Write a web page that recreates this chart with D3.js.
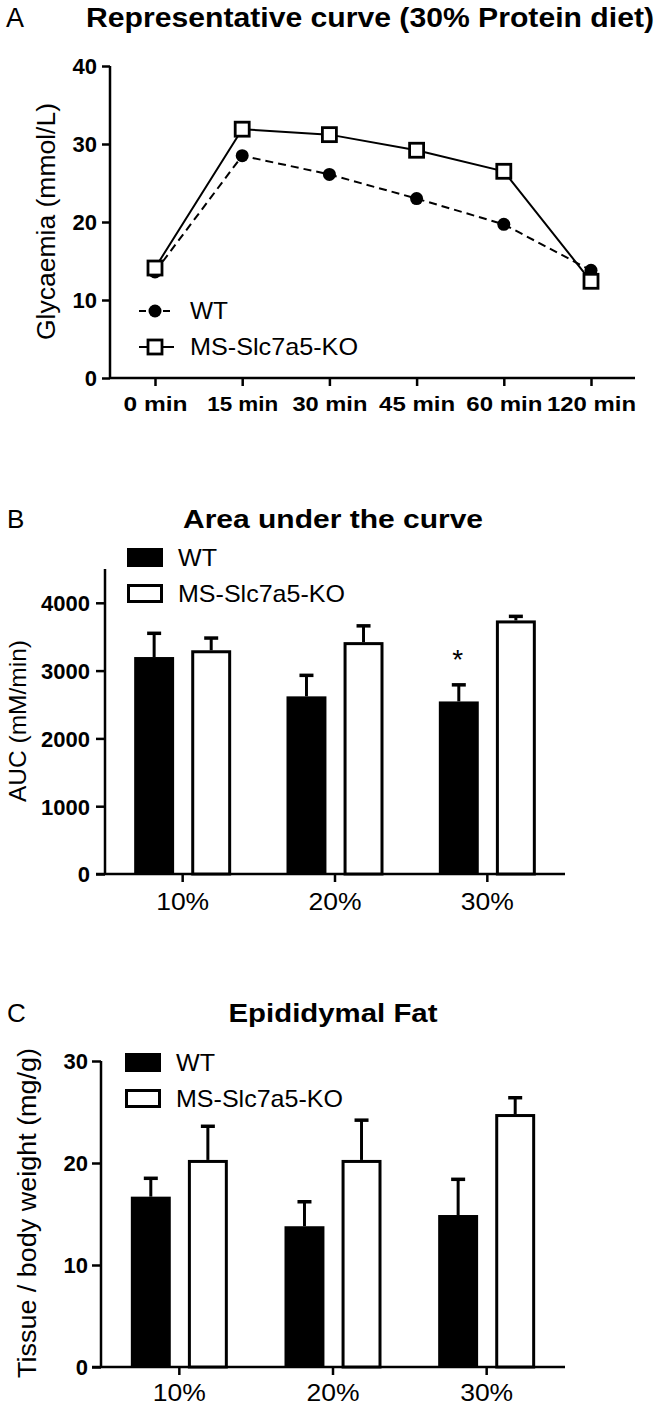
<!DOCTYPE html>
<html><head><meta charset="utf-8">
<script src="https://cdn.jsdelivr.net/npm/d3@7"></script>
<style>
html,body{margin:0;padding:0;background:#fff;}
text{font-family:Arial,"Liberation Sans",sans-serif;fill:#000;}
</style></head>
<body>
<svg id="chart" width="662" height="1407"></svg>
<script>
// ---------- Data ----------
const timePoints = ["0 min","15 min","30 min","45 min","60 min","120 min"];
const wtCurve = [13.6, 28.5, 26.1, 23.0, 19.7, 13.8];
const koCurve = [14.1, 31.9, 31.2, 29.2, 26.5, 12.4];
const yTicksA = [0,10,20,30,40];

const diets = ["10%","20%","30%"];
const groups = ["WT","MS-Slc7a5-KO"];
const aucWT = [3200, 2620, 2545];
const aucWTerr = [350, 310, 245];
const aucKO = [3300, 3420, 3740];
const aucKOerr = [180, 240, 60];
const yTicksB = [0,1000,2000,3000,4000];

const fatWT = [16.7, 13.8, 14.9];
const fatWTerr = [1.8, 2.4, 3.5];
const fatKO = [20.3, 20.3, 24.8];
const fatKOerr = [3.3, 3.9, 1.6];
const yTicksC = [0,10,20,30];

const FONT = "Arial,'Liberation Sans',sans-serif";
const svg = d3.select("#chart");

function txt(x, y, s, opts = {}) {
  const t = svg.append("text").attr("x", x).attr("y", y).text(s)
    .attr("font-size", opts.size || 18)
    .attr("font-weight", opts.weight || "normal")
    .attr("text-anchor", opts.anchor || "start");
  if (opts.len) t.attr("textLength", opts.len).attr("lengthAdjust", "spacingAndGlyphs");
  if (opts.fill) t.attr("fill", opts.fill);
  return t;
}
function vtxt(bx, cy, s, size, len) {
  return svg.append("text").attr("transform", `translate(${bx},${cy}) rotate(-90)`)
    .attr("text-anchor", "middle").attr("font-size", size)
    .attr("textLength", len).attr("lengthAdjust", "spacingAndGlyphs")
    .attr("x", 0).attr("y", 0).text(s);
}
function styleAxis(a) {
  a.select(".domain").remove();
  a.selectAll("line").attr("stroke", "#000").attr("stroke-width", 2.5);
  a.selectAll("text").attr("font-family", FONT).attr("fill", "#000");
}

// ---------- Panel A ----------
txt(6, 27, "A", {size: 27, fill: "#111"});
txt(86, 27, "Representative curve (30% Protein diet)", {size: 27, weight: "bold", len: 568});

const yA = d3.scaleLinear().domain([0,40]).range([378, 66]);
const xA = d3.scalePoint().domain(timePoints).range([155, 591]);
const xLabW = [64, 71, 75, 76, 76, 89];

const gA = svg.append("g");
const axYA = gA.append("g").attr("transform", "translate(110,0)")
  .call(d3.axisLeft(yA).tickValues(yTicksA).tickSize(8));
const axXA = gA.append("g").attr("transform", "translate(0,378)")
  .call(d3.axisBottom(xA).tickSize(8));
styleAxis(axYA); styleAxis(axXA);
axYA.selectAll("text").attr("font-size", 22).attr("font-weight", "bold").attr("x", -13).attr("dy", "0.36em");
axXA.selectAll("text").attr("font-size", 21).attr("font-weight", "bold").attr("y", 33).attr("dy", null)
  .attr("textLength", (d,i) => xLabW[i]).attr("lengthAdjust", "spacingAndGlyphs");
gA.append("line").attr("x1", 110).attr("x2", 110).attr("y1", yA(40)).attr("y2", yA(0)).attr("stroke","#000").attr("stroke-width",2.5);
gA.append("line").attr("x1", 110).attr("x2", 635).attr("y1", yA(0)).attr("y2", yA(0)).attr("stroke","#000").attr("stroke-width",2.5);

vtxt(55, 221.5, "Glycaemia (mmol/L)", 25, 237);

const line = d3.line().x((d,i) => xA(timePoints[i])).y(d => yA(d));
gA.append("path").datum(wtCurve).attr("d", line).attr("fill","none").attr("stroke","#000")
  .attr("stroke-width",2).attr("stroke-dasharray","8,5");
gA.selectAll(".wtc").data(wtCurve).enter().append("circle")
  .attr("cx",(d,i)=>xA(timePoints[i])).attr("cy", d=>yA(d)).attr("r",6.5).attr("fill","#000");
gA.append("path").datum(koCurve).attr("d", line).attr("fill","none").attr("stroke","#000").attr("stroke-width",2);
gA.selectAll(".kos").data(koCurve).enter().append("rect")
  .attr("x",(d,i)=>xA(timePoints[i])-7).attr("y", d=>yA(d)-7).attr("width",14).attr("height",14)
  .attr("fill","#fff").attr("stroke","#000").attr("stroke-width",2.8);

// legend A
gA.append("line").attr("x1",139).attr("x2",174).attr("y1",311).attr("y2",311).attr("stroke","#000").attr("stroke-width",2).attr("stroke-dasharray","7,5");
gA.append("circle").attr("cx",155).attr("cy",311).attr("r",6.5).attr("fill","#000");
txt(190, 318.5, groups[0], {size: 24, fill:"#222", len: 38});
gA.append("line").attr("x1",139).attr("x2",174).attr("y1",347).attr("y2",347).attr("stroke","#000").attr("stroke-width",2);
gA.append("rect").attr("x",148).attr("y",340).attr("width",14).attr("height",14).attr("fill","#fff").attr("stroke","#000").attr("stroke-width",2.8);
txt(190, 355, groups[1], {size: 24, fill:"#222", len: 168});

// ---------- Bar panel helper ----------
function barPanel(cfg) {
  const y = d3.scaleLinear().domain(cfg.ydom).range([cfg.y0, cfg.y1]);
  const x0 = d3.scaleBand().domain(diets).range([cfg.ax + 1.5, cfg.xend - 1.5]).padding(0);
  const x1 = d3.scaleBand().domain(groups).range([-48.5, 48.5]).paddingInner(0.3).paddingOuter(0);
  const g = svg.append("g");
  const ay = g.append("g").attr("transform", `translate(${cfg.ax},0)`)
    .call(d3.axisLeft(y).tickValues(cfg.ticks).tickSize(9).tickFormat(d3.format("d")));
  const ax = g.append("g").attr("transform", `translate(0,${cfg.y0})`)
    .call(d3.axisBottom(x0).tickSize(8));
  styleAxis(ay); styleAxis(ax);
  ay.selectAll("text").attr("font-size",22).attr("font-weight","bold").attr("x", -cfg.tickGap).attr("dy","0.36em");
  ax.selectAll("text").attr("font-size",24).attr("y", cfg.labY).attr("dy", null)
    .attr("textLength", 53).attr("lengthAdjust", "spacingAndGlyphs");
  g.append("line").attr("x1",cfg.ax).attr("x2",cfg.ax).attr("y1",y(cfg.ydom[1])).attr("y2",cfg.y0).attr("stroke","#000").attr("stroke-width",2.5);
  g.append("line").attr("x1",cfg.ax - 9).attr("x2",cfg.xend).attr("y1",cfg.y0).attr("y2",cfg.y0).attr("stroke","#000").attr("stroke-width",2.5);

  const rows = diets.map((d,i) => [
    {diet:d, grp:groups[0], v:cfg.wt[i], e:cfg.wte[i]},
    {diet:d, grp:groups[1], v:cfg.ko[i], e:cfg.koe[i]}
  ]).flat();
  const cx = r => x0(r.diet) + x0.bandwidth()/2 + x1(r.grp);
  g.selectAll(".err").data(rows).enter().append("line")
    .attr("x1", r => cx(r) + x1.bandwidth()/2).attr("x2", r => cx(r) + x1.bandwidth()/2)
    .attr("y1", r => y(r.v)).attr("y2", r => y(r.v + r.e)).attr("stroke","#000").attr("stroke-width",3);
  g.selectAll(".cap").data(rows).enter().append("line")
    .attr("x1", r => cx(r) + x1.bandwidth()/2 - 7).attr("x2", r => cx(r) + x1.bandwidth()/2 + 7)
    .attr("y1", r => y(r.v + r.e)).attr("y2", r => y(r.v + r.e)).attr("stroke","#000").attr("stroke-width",3.5);
  g.selectAll(".bar").data(rows).enter().append("rect")
    .attr("x", r => cx(r) + (r.grp === groups[0] ? 0 : 1.5))
    .attr("y", r => y(r.v) + (r.grp === groups[0] ? 0 : 1.5))
    .attr("width", r => x1.bandwidth() - (r.grp === groups[0] ? 0 : 3))
    .attr("height", r => cfg.y0 - y(r.v) - (r.grp === groups[0] ? 0 : 1.5))
    .attr("fill", r => r.grp === groups[0] ? "#000" : "#fff")
    .attr("stroke", r => r.grp === groups[0] ? "none" : "#000")
    .attr("stroke-width", 3);

  g.append("rect").attr("x",cfg.lx).attr("y",cfg.ly).attr("width",36).attr("height",19).attr("fill","#000");
  g.append("rect").attr("x",cfg.lx+1.5).attr("y",cfg.ly+36+1.5).attr("width",33).attr("height",16).attr("fill","#fff").attr("stroke","#000").attr("stroke-width",3);
  txt(cfg.lx + 51, cfg.ly + 18, groups[0], {size: 24, fill:"#222", len: 39});
  txt(cfg.lx + 51, cfg.ly + 54, groups[1], {size: 24, fill:"#222", len: 167});
  return {y, x0, x1, g, cx, rows};
}

// ---------- Panel B ----------
txt(7, 528, "B", {size: 26, fill: "#111"});
txt(333, 528, "Area under the curve", {size: 26, weight:"bold", anchor:"middle", len: 300});
const pB = barPanel({ydom:[0,4500], y0:874, y1:568.9, ax:105, xend:565, ticks:yTicksB, tickGap:15, labY:36,
  wt:aucWT, wte:aucWTerr, ko:aucKO, koe:aucKOerr, lx:127, ly:548});
vtxt(26, 721, "AUC (mM/min)", 24, 162);
const r30 = pB.rows.find(r => r.diet === "30%" && r.grp === groups[0]);
txt(pB.cx(r30) + pB.x1.bandwidth()/2 - 1, pB.y(r30.v + r30.e) - 16, "*", {size: 28, anchor:"middle"});

// ---------- Panel C ----------
txt(7, 1022, "C", {size: 26, fill: "#111"});
txt(333, 1022, "Epididymal Fat", {size: 26, weight:"bold", anchor:"middle", len: 209});
barPanel({ydom:[0,30], y0:1367, y1:1061, ax:101, xend:565, ticks:yTicksC, tickGap:13, labY:34,
  wt:fatWT, wte:fatWTerr, ko:fatKO, koe:fatKOerr, lx:125, ly:1053});
vtxt(35.5, 1213, "Tissue / body weight (mg/g)", 25, 330);
</script>
</body></html>
